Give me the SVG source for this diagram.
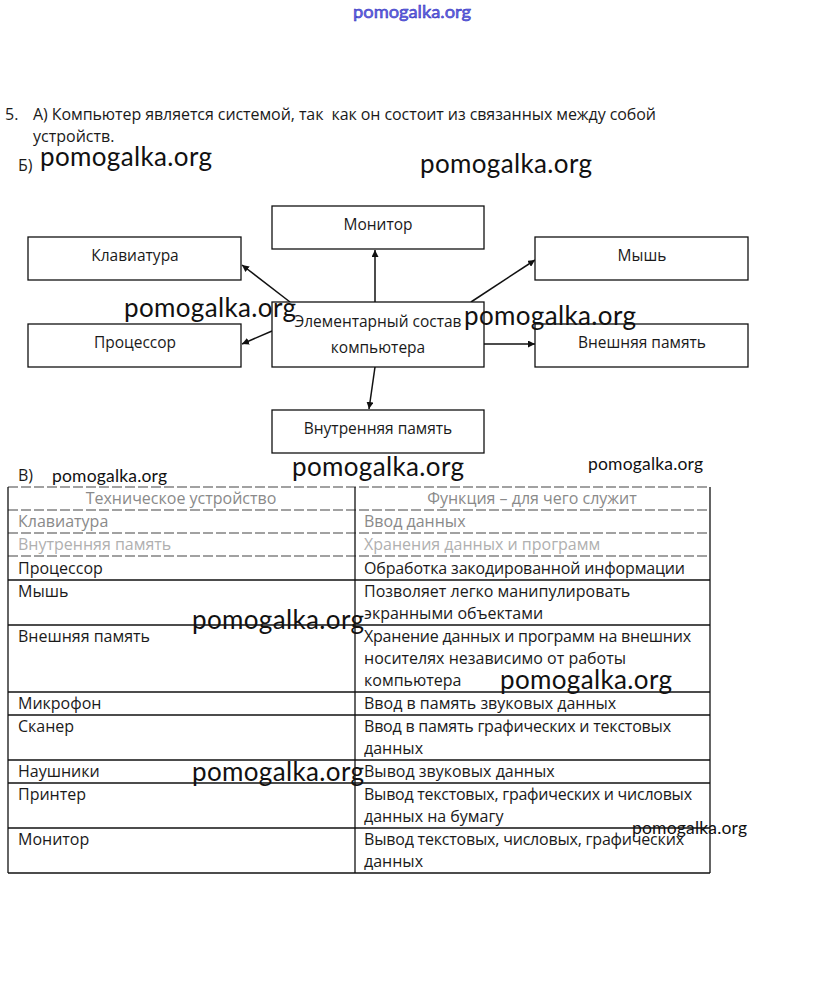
<svg xmlns="http://www.w3.org/2000/svg" width="823" height="990" viewBox="0 0 823 990">
<defs>
<style>
.t{font-family:"Open Sans","Noto Sans","Liberation Sans",sans-serif;font-size:16px;fill:#1a1a1a}
.d{font-family:"Open Sans","Noto Sans","Liberation Sans",sans-serif;font-size:15.5px;fill:#1a1a1a;text-anchor:middle}
.f{fill:#8a8a8a}
.f2{fill:#b0b0b0}
.box{fill:#fff;stroke:#111;stroke-width:1.3}
.wm{font-family:Lato,"Open Sans",sans-serif;font-size:26px;fill:#111}
.ws{font-family:Lato,"Open Sans",sans-serif;font-size:17.5px;fill:#111}
.ln{stroke:#111;stroke-width:1.3}
.dl{stroke:#444;stroke-width:1.2;stroke-dasharray:10 3}
.con{stroke:#111;stroke-width:1.5;fill:none;marker-end:url(#ah)}
</style>
<marker id="ah" viewBox="0 0 10 10" refX="10" refY="5" markerWidth="7" markerHeight="7" markerUnits="userSpaceOnUse" orient="auto"><path d="M0,0 L10,5 L0,10 z" fill="#111"/></marker>
</defs>
<rect width="823" height="990" fill="#fff"/>

<text x="412" y="18" text-anchor="middle" font-family="Lato,'Open Sans',sans-serif" font-size="17" fill="#6a6ae8" stroke="#2a2ab8" stroke-width="0.5" textLength="118" lengthAdjust="spacingAndGlyphs">pomogalka.org</text>

<text class="t" x="5" y="120">5.</text>
<text class="t" x="33" y="120" xml:space="preserve" textLength="623">А) Компьютер является системой, так  как он состоит из связанных между собой</text>
<text class="t" x="33" y="142">устройств.</text>
<text class="t" x="18" y="171" font-size="15">Б)</text>

<g id="connectors">
<line class="con" x1="375" y1="302" x2="375" y2="250"/>
<line class="con" x1="290" y1="302" x2="242" y2="265"/>
<line class="con" x1="272" y1="331" x2="242" y2="344"/>
<line class="con" x1="375" y1="367" x2="369" y2="409"/>
<line class="con" x1="471" y1="302" x2="535" y2="260"/>
<line class="con" x1="484" y1="344" x2="535" y2="344"/>
</g>

<g id="n-monitor"><rect class="box" x="272" y="206" width="212" height="43"/><text class="d" x="378" y="230">Монитор</text></g>
<g id="n-keyboard"><rect class="box" x="28" y="237" width="213" height="43"/><text class="d" x="135" y="261">Клавиатура</text></g>
<g id="n-cpu"><rect class="box" x="28" y="324" width="213" height="43"/><text class="d" x="135" y="348">Процессор</text></g>
<g id="n-core"><rect class="box" x="272" y="302" width="212" height="65"/><text class="d" x="378" y="327" textLength="167">Элементарный состав</text><text class="d" x="378" y="353">компьютера</text></g>
<g id="n-ram"><rect class="box" x="272" y="410" width="212" height="43"/><text class="d" x="378" y="434">Внутренняя память</text></g>
<g id="n-mouse"><rect class="box" x="535" y="237" width="213" height="43"/><text class="d" x="642" y="261">Мышь</text></g>
<g id="n-ext"><rect class="box" x="535" y="324" width="213" height="43"/><text class="d" x="642" y="348">Внешняя память</text></g>

<text class="t" x="18" y="481" font-size="15">В)</text>

<g id="table">
<line class="dl" x1="8" y1="487" x2="710" y2="487"/>
<line class="dl" x1="8" y1="510" x2="710" y2="510"/>
<line class="dl" x1="8" y1="533" x2="710" y2="533"/>
<line class="dl" x1="8" y1="556" x2="710" y2="556"/>
<line class="ln" x1="8" y1="580" x2="710" y2="580"/>
<line class="ln" x1="8" y1="625" x2="710" y2="625"/>
<line class="ln" x1="8" y1="692" x2="710" y2="692"/>
<line class="ln" x1="8" y1="715" x2="710" y2="715"/>
<line class="ln" x1="8" y1="760" x2="710" y2="760"/>
<line class="ln" x1="8" y1="783" x2="710" y2="783"/>
<line class="ln" x1="8" y1="828" x2="710" y2="828"/>
<line class="ln" x1="8" y1="873" x2="710" y2="873"/>
<line class="ln" x1="8" y1="487" x2="8" y2="873"/>
<line class="ln" x1="355" y1="487" x2="355" y2="873"/>
<line class="ln" x1="710" y1="487" x2="710" y2="873"/>

<text class="t f" x="181" y="504" text-anchor="middle" font-size="15">Техническое устройство</text>
<text class="t f" x="532" y="504" text-anchor="middle" font-size="15">Функция – для чего служит</text>

<text class="t f" x="18" y="527">Клавиатура</text>
<text class="t f" x="364" y="527">Ввод данных</text>
<text class="t f2" x="18" y="550">Внутренняя память</text>
<text class="t f2" x="364" y="550">Хранения данных и программ</text>
<text class="t" x="18" y="574">Процессор</text>
<text class="t" x="364" y="574" textLength="321">Обработка закодированной информации</text>
<text class="t" x="18" y="597">Мышь</text>
<text class="t" x="364" y="597">Позволяет легко манипулировать</text>
<text class="t" x="364" y="619">экранными объектами</text>
<text class="t" x="18" y="642">Внешняя память</text>
<text class="t" x="364" y="642" textLength="327">Хранение данных и программ на внешних</text>
<text class="t" x="364" y="664">носителях независимо от работы</text>
<text class="t" x="364" y="686">компьютера</text>
<text class="t" x="18" y="709">Микрофон</text>
<text class="t" x="364" y="709">Ввод в память звуковых данных</text>
<text class="t" x="18" y="732">Сканер</text>
<text class="t" x="364" y="732" textLength="307">Ввод в память графических и текстовых</text>
<text class="t" x="364" y="754">данных</text>
<text class="t" x="18" y="777">Наушники</text>
<text class="t" x="364" y="777">Вывод звуковых данных</text>
<text class="t" x="18" y="800">Принтер</text>
<text class="t" x="364" y="800" textLength="328">Вывод текстовых, графических и числовых</text>
<text class="t" x="364" y="822">данных на бумагу</text>
<text class="t" x="18" y="845">Монитор</text>
<text class="t" x="364" y="845" textLength="320">Вывод текстовых, числовых, графических</text>
<text class="t" x="364" y="867">данных</text>
</g>

<g id="watermarks">
<text class="wm" x="40" y="166" textLength="172">pomogalka.org</text>
<text class="wm" x="420" y="173" textLength="172">pomogalka.org</text>
<text class="wm" x="124" y="317" textLength="172">pomogalka.org</text>
<text class="wm" x="464" y="325" textLength="172">pomogalka.org</text>
<text class="ws" x="52" y="482" textLength="115">pomogalka.org</text>
<text class="wm" x="292" y="476" textLength="172">pomogalka.org</text>
<text class="ws" x="588" y="470" textLength="115">pomogalka.org</text>
<text class="wm" x="192" y="629" textLength="172">pomogalka.org</text>
<text class="wm" x="500" y="689" textLength="172">pomogalka.org</text>
<text class="wm" x="192" y="781" textLength="172">pomogalka.org</text>
<text class="ws" x="632" y="834" textLength="115">pomogalka.org</text>
</g>
</svg>
